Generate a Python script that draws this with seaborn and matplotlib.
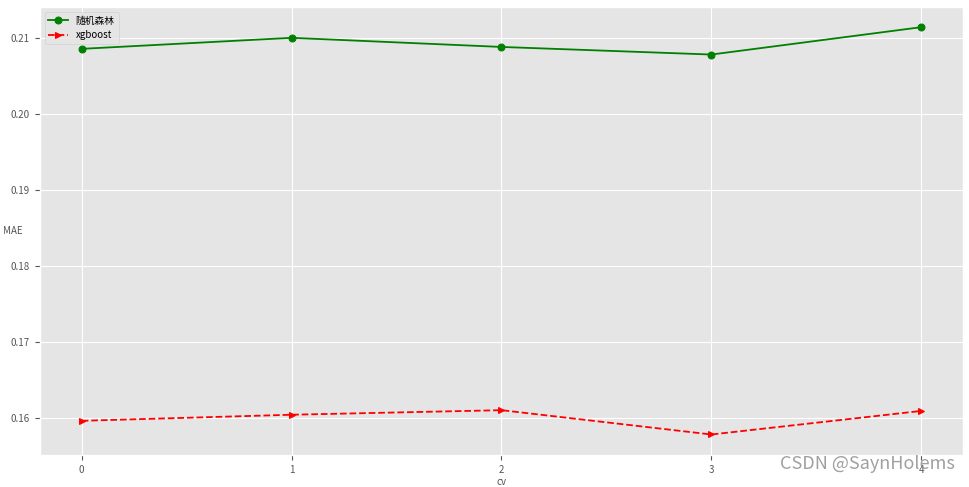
import numpy as np
import pandas as pd
import matplotlib
matplotlib.use("Agg")
import matplotlib.pyplot as plt
import seaborn as sns

cv = [0, 1, 2, 3, 4]
rf_mae = [0.20855, 0.2100, 0.2088, 0.2078, 0.2114]
xgb_mae = [0.1596, 0.1604, 0.1610, 0.1578, 0.1609]

plt.style.use("ggplot")
plt.rcParams["font.family"] = ["Noto Sans CJK SC", "DejaVu Sans"]
plt.rcParams["axes.unicode_minus"] = False

fig, ax = plt.subplots(figsize=(9.69, 4.87), dpi=100)
fig.subplots_adjust(left=0.041, right=0.994, top=0.986, bottom=0.066)

sns.lineplot(x=cv, y=rf_mae, ax=ax, color="green", marker="o", markersize=5,
             markeredgecolor="green", linewidth=1.3, label="随机森林")
sns.lineplot(x=cv, y=xgb_mae, ax=ax, color="red", marker=">", markersize=5,
             markeredgecolor="red", linewidth=1.3, linestyle="--", label="xgboost")

ax.set_xticks(cv)
ax.set_xlabel("cv", fontsize=7, color="#555555", labelpad=2)
ax.set_ylabel("MAE", fontsize=7, color="#555555", rotation=0, ha="center", va="center")
ax.yaxis.set_label_coords(-0.029, 0.5)
ax.tick_params(labelsize=7, colors="#555555")
ax.legend(loc="upper left", fontsize=7)

fig.text(0.985, 0.047, "CSDN @SaynHolems", ha="right", va="center",
         fontsize=13, color="#888888", alpha=0.8)

fig.savefig("out.png", dpi=100)
